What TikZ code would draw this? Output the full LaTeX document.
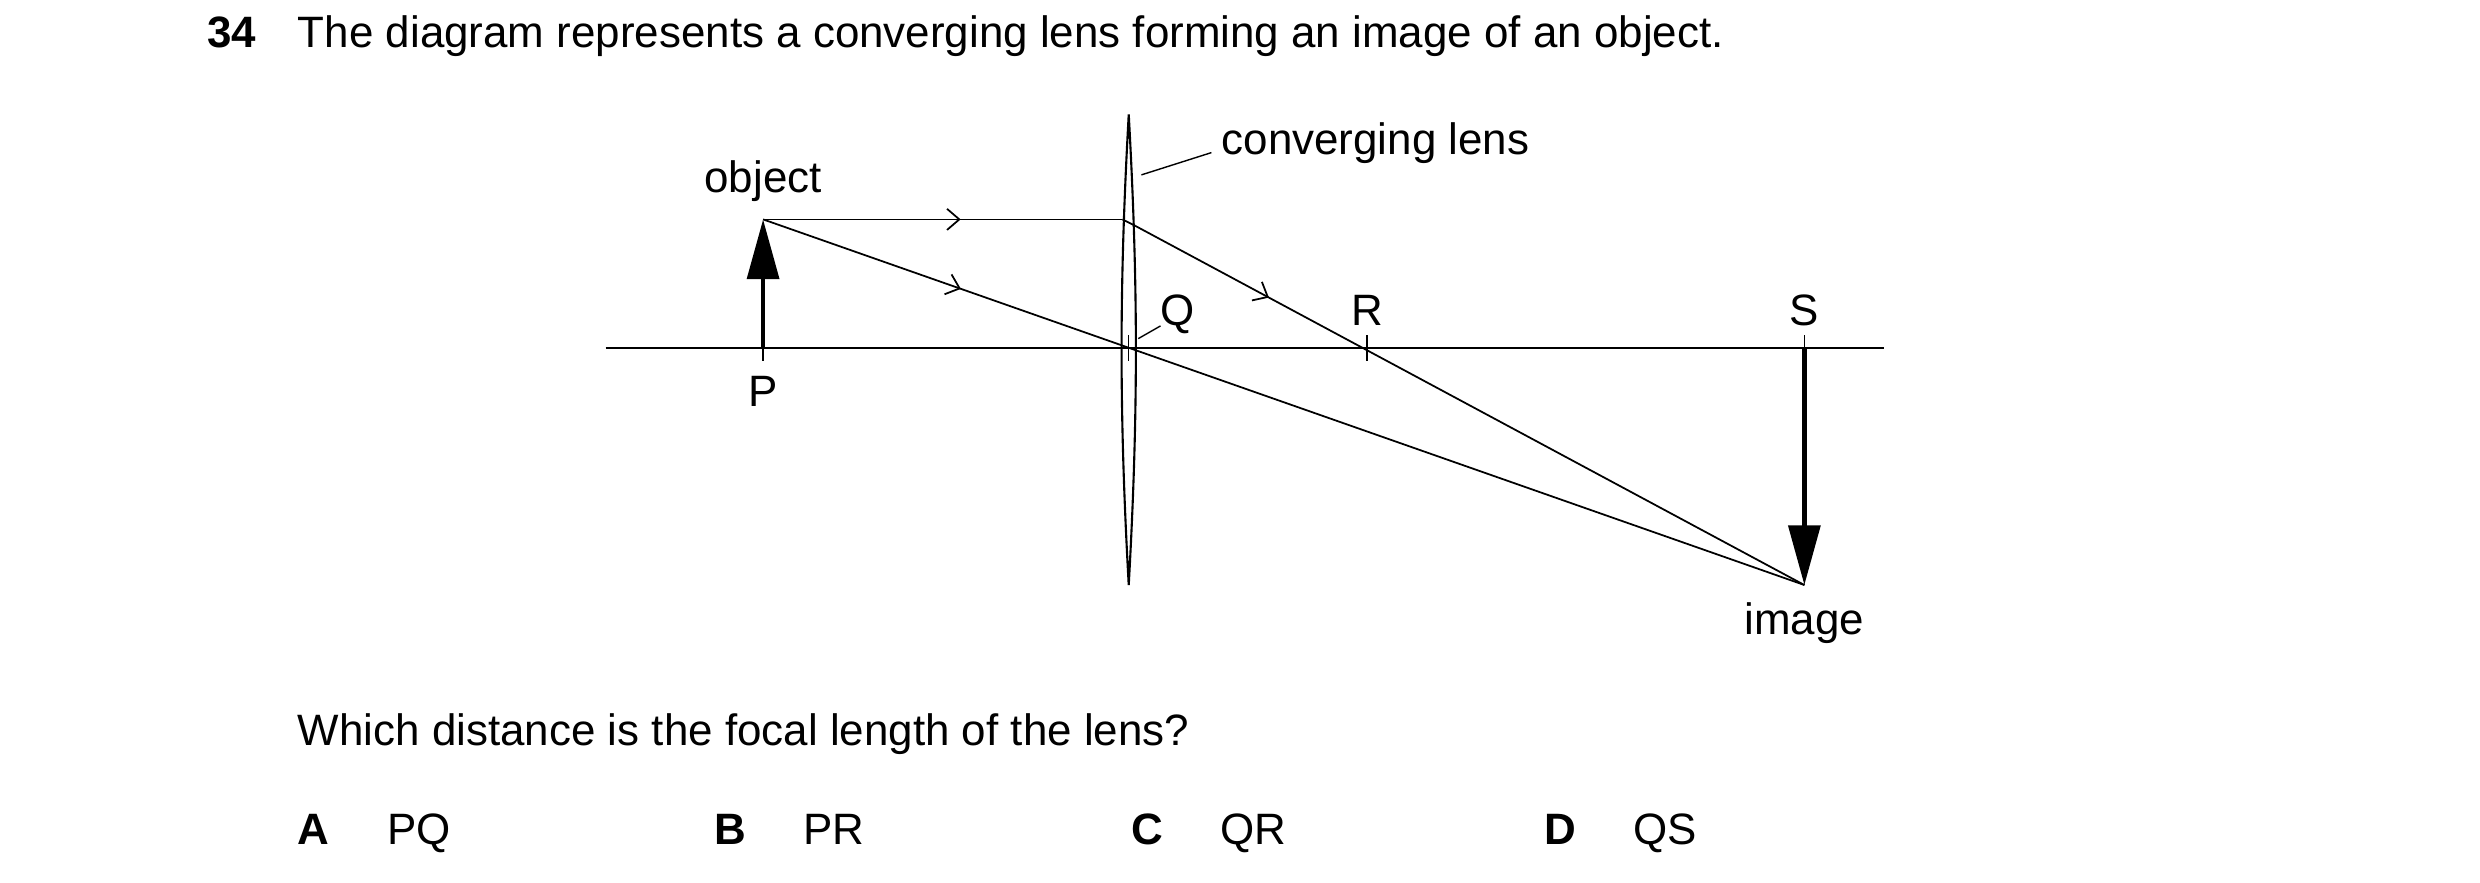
\documentclass[tikz,border=0pt]{standalone}
\usepackage{fontspec}
\setmainfont{Liberation Sans}
\usetikzlibrary{positioning}
\usetikzlibrary{calc,arrows.meta,decorations.markings}

\tikzset{
	txt/.style={inner sep=0pt, anchor=base west, font=\fontsize{12.5pt}{14pt}\selectfont},
	lbl/.style={inner sep=0pt, anchor=base, font=\fontsize{12.5pt}{14pt}\selectfont},
	ray/.style={line width=0.5pt},
	midarrow/.style={postaction={decorate}, decoration={markings,
		mark=at position #1 with {\arrow{Straight Barb[length=3.5pt,width=6pt,line width=0.5pt]}}}},
	bigtip/.style={line width=1.3pt, -{Triangle[length=17pt,width=9pt]}},
}

\begin{document}
\begin{tikzpicture}[x=0.0159cm, y=-0.0159cm]
	\useasboundingbox (0,0) rectangle (1560,555);
	
	% question text
	\node[txt, font=\bfseries\fontsize{12.5pt}{14pt}\selectfont] (Num) at (130,30) {34};
	\node[txt] (Question) at (187,30) {The diagram represents a converging lens forming an image of an object.};
	
	% principal axis and points
	\coordinate (AxL) at (381,219);
	\coordinate (AxR) at (1185,219);
	\coordinate (P) at (480,219);
	\coordinate (Q) at (710,219);
	\coordinate (R) at (860,219);
	\coordinate (S) at (1135,219);
	\coordinate (Top) at (480,138);
	\coordinate (Img) at (1135,368);
	\coordinate (LensT) at (710,72);
	\coordinate (LensB) at (710,368);
	\coordinate (Kink1) at (706,138);
	\coordinate (Kink2) at (714,142);
	
	\draw[ray] (AxL) -- (AxR);
	\foreach \pt in {P,Q,R,S}
		\draw[line width=0.4pt] ($(\pt)+(0,-8)$) -- ($(\pt)+(0,8)$);
	
	% lens
	\draw[line width=0.6pt] (LensT) .. controls (716,180) and (716,260) .. (LensB)
		.. controls (704,260) and (704,180) .. (LensT);
	
	% object and image
	\draw[bigtip] (P) -- (Top);
	\draw[bigtip] (S) -- (Img);
	
	% rays
	\draw[ray, midarrow=0.55] (Top) -- (Kink1);
	\draw[ray] (Kink1) -- (Kink2);
	\draw[ray, midarrow=0.2] (Kink2) -- (Img);
	\draw[ray, midarrow=0.19] (Top) -- (Img);
	
	% labels
	\node[lbl] (ObjLabel) at (480,121) {object};
	\node[lbl] (PLabel) at (480,256) {P};
	\node[lbl] (QLabel) at (741,205) {Q};
	\node[lbl] (RLabel) at (860,205) {R};
	\node[lbl] (SLabel) at (1135,205) {S};
	\node[lbl] (ImgLabel) at (1135,399) {image};
	\node[txt] (LensLabel) at (768,97) {converging lens};
	\draw[line width=0.4pt] (718,110) -- (762,96);
	\draw[line width=0.4pt] (716,213) -- (730,205);
	
	% question and options
	\node[txt] (Which) at (187,469) {Which distance is the focal length of the lens?};
	\foreach \x/\opt/\ans in {187/A/PQ, 449/B/PR, 711/C/QR, 971/D/QS}{
		\node[txt, font=\bfseries\fontsize{12.5pt}{14pt}\selectfont] (Opt\opt) at (\x,531) {\opt};
		\node[txt] (Ans\opt) at (\x+56,531) {\ans};
	}
\end{tikzpicture}
\end{document}
